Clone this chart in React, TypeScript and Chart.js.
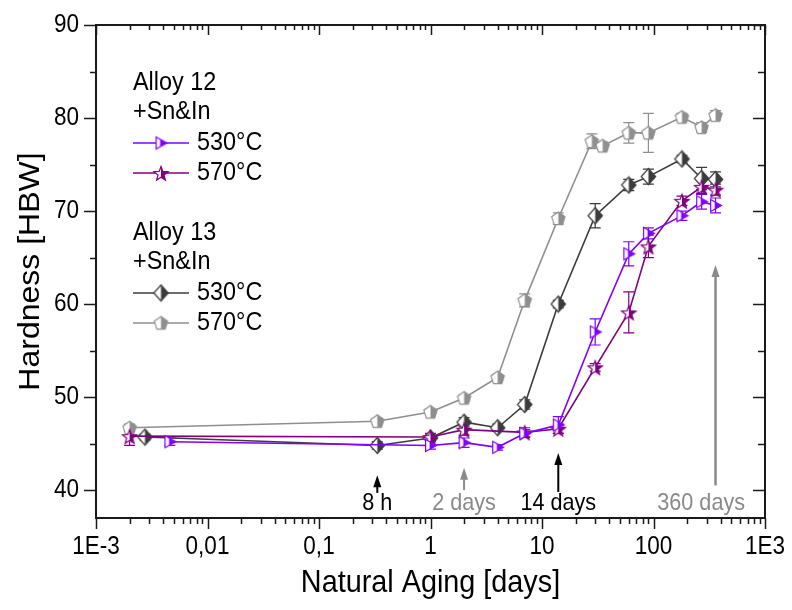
import React, { useEffect, useRef } from "react";
import { Chart, registerables } from "chart.js";

Chart.register(...registerables);

// ---------- data ----------
const X_TICKS = [0.001, 0.01, 0.1, 1, 10, 100, 1000];
const X_TICK_LABELS = ["1E-3", "0,01", "0,1", "1", "10", "100", "1E3"];
const Y_TICKS = [40, 50, 60, 70, 80, 90];
const Y_TICK_LABELS = ["40", "50", "60", "70", "80", "90"];
const Y_MINOR = [45, 55, 65, 75, 85];

const A12_530_DAYS = [0.0046, 1, 2, 4, 7, 14, 30, 60, 90, 180, 270, 360];
const A12_530_HBW = [45.2, 44.8, 45.1, 44.6, 46.1, 47.0, 57.0, 65.4, 67.6, 69.5, 71.0, 70.6];
const A12_530_ERR = [0.4, 0.4, 0.5, 0.3, 0.4, 0.9, 1.4, 1.3, 0.6, 0.5, 0.8, 0.8];

const A12_570_DAYS = [0.002, 1, 2, 7, 14, 30, 60, 90, 180, 270, 360];
const A12_570_HBW = [45.8, 45.7, 46.5, 46.2, 46.6, 53.2, 59.1, 66.2, 71.1, 72.6, 72.3];
const A12_570_ERR = [1.0, 0.4, 0.6, 0.5, 0.5, 0.4, 2.2, 1.2, 0.5, 0.7, 0.6];

const A13_530_DAYS = [0.00275, 0.333, 1, 2, 4, 7, 14, 30, 60, 90, 180, 270, 360];
const A13_530_HBW = [45.7, 44.8, 45.6, 47.3, 46.7, 49.2, 60.0, 69.5, 72.8, 73.7, 75.6, 73.5, 73.4];
const A13_530_ERR = [0.3, 0.4, 0.3, 0.5, 0.4, 0.5, 0.4, 1.3, 0.6, 0.8, 0.4, 1.2, 0.8];

const A13_570_DAYS = [0.002, 0.333, 1, 2, 4, 7, 14, 28, 35, 60, 90, 180, 270, 360];
const A13_570_HBW = [46.7, 47.4, 48.4, 49.9, 52.1, 60.4, 69.2, 77.5, 77.0, 78.4, 78.4, 80.1, 79.0, 80.3];
const A13_570_ERR = [0.4, 0.3, 0.3, 0.3, 0.3, 0.7, 0.6, 0.8, 0.4, 1.1, 2.1, 0.4, 0.5, 0.5];

const NOTE_DAYS = [1 / 3, 2, 14, 360];
const NOTE_TEXT = ["8 h", "2 days", "14 days", "360 days"];
const NOTE_TIP = [41.6, 42.4, 44.0, 64.2];
const NOTE_BASE = [39.7, 40.0, 39.8, 40.5];
const NOTE_TEXT_Y = [38.6, 38.6, 38.6, 38.6];

// ---------- styles ----------
const FONT = "'Liberation Sans', Arial, Helvetica, sans-serif";
const SQUEEZE = 0.9;
const C_VIOLET = "#8000ff";
const C_MAGENTA = "#800080";
const C_DARK = "#3c3c3c";
const C_GRAY = "#8f8f8f";
const NOTE_COLORS = ["#000000", "#8a8a8a", "#000000", "#8a8a8a"];

type Kind = "triangle" | "star" | "diamond" | "pentagon";

function shapePath(kind: Kind, size: number): Path2D {
  const p = new Path2D();
  const h = size / 2;
  const r = size / 2 - 1.5;
  if (kind === "triangle") {
    p.moveTo(h - r * 0.7, h - r * 0.85);
    p.lineTo(h + r * 0.85, h);
    p.lineTo(h - r * 0.7, h + r * 0.85);
    p.closePath();
  } else if (kind === "diamond") {
    p.moveTo(h, h - r);
    p.lineTo(h + r * 0.9, h);
    p.lineTo(h, h + r);
    p.lineTo(h - r * 0.9, h);
    p.closePath();
  } else if (kind === "pentagon") {
    for (let k = 0; k < 5; k++) {
      const a = -Math.PI / 2 + (k * 2 * Math.PI) / 5;
      const x = h + r * Math.cos(a);
      const y = h + 0.5 + r * Math.sin(a);
      if (k === 0) p.moveTo(x, y);
      else p.lineTo(x, y);
    }
    p.closePath();
  } else {
    for (let k = 0; k < 10; k++) {
      const a = -Math.PI / 2 + (k * Math.PI) / 5;
      const rr = k % 2 === 0 ? r : r * 0.42;
      const x = h + rr * Math.cos(a);
      const y = h + 1 + rr * Math.sin(a);
      if (k === 0) p.moveTo(x, y);
      else p.lineTo(x, y);
    }
    p.closePath();
  }
  return p;
}

function makeMarker(kind: Kind, color: string, size: number, split: number): HTMLCanvasElement {
  const c = document.createElement("canvas");
  c.width = size;
  c.height = size;
  const ctx = c.getContext("2d")!;
  const path = shapePath(kind, size);
  ctx.fillStyle = "#ffffff";
  ctx.fill(path);
  ctx.save();
  ctx.beginPath();
  ctx.rect(size * split, 0, size, size);
  ctx.clip();
  ctx.fillStyle = color;
  ctx.fill(path);
  ctx.restore();
  ctx.strokeStyle = color;
  ctx.lineWidth = 1.2;
  ctx.stroke(path);
  return c;
}

function text(
  ctx: CanvasRenderingContext2D,
  s: string,
  x: number,
  y: number,
  size: number,
  align: CanvasTextAlign,
  color: string,
  vertical = false
) {
  ctx.save();
  ctx.font = `${size}px ${FONT}`;
  ctx.fillStyle = color;
  ctx.textAlign = align;
  ctx.textBaseline = "middle";
  ctx.translate(x, y);
  if (vertical) {
    ctx.rotate(-Math.PI / 2);
    ctx.scale(1, SQUEEZE);
  } else {
    ctx.scale(SQUEEZE, 1);
  }
  ctx.fillText(s, 0, 0);
  ctx.restore();
}

const SERIES = [
  { name: "530°C", group: 12, days: A12_530_DAYS, hbw: A12_530_HBW, err: A12_530_ERR, color: C_VIOLET, kind: "triangle" as Kind, size: 17, split: 0.45 },
  { name: "570°C", group: 12, days: A12_570_DAYS, hbw: A12_570_HBW, err: A12_570_ERR, color: C_MAGENTA, kind: "star" as Kind, size: 18, split: 0.5 },
  { name: "530°C", group: 13, days: A13_530_DAYS, hbw: A13_530_HBW, err: A13_530_ERR, color: C_DARK, kind: "diamond" as Kind, size: 19, split: 0.5 },
  { name: "570°C", group: 13, days: A13_570_DAYS, hbw: A13_570_HBW, err: A13_570_ERR, color: C_GRAY, kind: "pentagon" as Kind, size: 17, split: 0.5 },
];

export default function App() {
  const ref = useRef<HTMLCanvasElement>(null);

  useEffect(() => {
    const markers = SERIES.map((s) => makeMarker(s.kind, s.color, s.size, s.split));

    const errorBars = {
      id: "errorBars",
      beforeDatasetsDraw(chart: any) {
        const ctx = chart.ctx;
        const ys = chart.scales.y;
        ctx.save();
        SERIES.forEach((s, di) => {
          const meta = chart.getDatasetMeta(di);
          ctx.strokeStyle = s.color;
          ctx.lineWidth = 1.2;
          meta.data.forEach((pt: any, i: number) => {
            const e = s.err[i];
            if (!e) return;
            const y1 = ys.getPixelForValue(s.hbw[i] + e);
            const y2 = ys.getPixelForValue(s.hbw[i] - e);
            const x = pt.x;
            ctx.beginPath();
            ctx.moveTo(x, y1);
            ctx.lineTo(x, y2);
            ctx.moveTo(x - 5.5, y1);
            ctx.lineTo(x + 5.5, y1);
            ctx.moveTo(x - 5.5, y2);
            ctx.lineTo(x + 5.5, y2);
            ctx.stroke();
          });
        });
        ctx.restore();
      },
    };

    const decor = {
      id: "decor",
      afterDraw(chart: any) {
        const ctx = chart.ctx;
        const a = chart.chartArea;
        const xs = chart.scales.x;
        const ys = chart.scales.y;
        ctx.save();
        // frame
        ctx.strokeStyle = "#1a1a1a";
        ctx.lineWidth = 2;
        ctx.strokeRect(a.left, a.top, a.right - a.left, a.bottom - a.top);
        ctx.lineWidth = 1.5;
        ctx.beginPath();
        const xMinor: number[] = [];
        for (let d = -3; d < 3; d++) for (let k = 2; k <= 9; k++) xMinor.push(k * Math.pow(10, d));
        X_TICKS.forEach((v) => {
          const x = Math.round(xs.getPixelForValue(v)) + 0.5;
          ctx.moveTo(x, a.bottom);
          ctx.lineTo(x, a.bottom + 11);
          ctx.moveTo(x, a.top);
          ctx.lineTo(x, a.top + 10);
        });
        xMinor.forEach((v) => {
          const x = Math.round(xs.getPixelForValue(v)) + 0.5;
          ctx.moveTo(x, a.bottom);
          ctx.lineTo(x, a.bottom + 6);
          ctx.moveTo(x, a.top);
          ctx.lineTo(x, a.top + 5);
        });
        Y_TICKS.forEach((v) => {
          const y = Math.round(ys.getPixelForValue(v)) + 0.5;
          ctx.moveTo(a.left, y);
          ctx.lineTo(a.left - 12, y);
          ctx.moveTo(a.right, y);
          ctx.lineTo(a.right - 12, y);
        });
        Y_MINOR.forEach((v) => {
          const y = Math.round(ys.getPixelForValue(v)) + 0.5;
          ctx.moveTo(a.left, y);
          ctx.lineTo(a.left - 6, y);
          ctx.moveTo(a.right, y);
          ctx.lineTo(a.right - 7, y);
        });
        ctx.stroke();

        // tick labels
        X_TICKS.forEach((v, i) => {
          text(ctx, X_TICK_LABELS[i], xs.getPixelForValue(v), a.bottom + 29, 25, "center", "#000");
        });
        Y_TICKS.forEach((v, i) => {
          text(ctx, Y_TICK_LABELS[i], a.left - 17, ys.getPixelForValue(v), 25, "right", "#000");
        });

        // axis titles
        text(ctx, "Natural Aging [days]", (a.left + a.right) / 2, 583, 32, "center", "#000");
        text(ctx, "Hardness [HBW]", 31, (a.top + a.bottom) / 2, 32, "center", "#000", true);

        // annotations
        NOTE_DAYS.forEach((d, i) => {
          const x = xs.getPixelForValue(d);
          const yt = ys.getPixelForValue(NOTE_TIP[i]);
          const yb = ys.getPixelForValue(NOTE_BASE[i]);
          const col = NOTE_COLORS[i];
          ctx.strokeStyle = col;
          ctx.fillStyle = col;
          ctx.lineWidth = i === 3 ? 2.5 : 2;
          ctx.beginPath();
          ctx.moveTo(x, yb);
          ctx.lineTo(x, yt + 8);
          ctx.stroke();
          ctx.beginPath();
          ctx.moveTo(x, yt);
          ctx.lineTo(x - 4, yt + 12);
          ctx.lineTo(x + 4, yt + 12);
          ctx.closePath();
          ctx.fill();
          ctx.font = `24px ${FONT}`;
          const w = ctx.measureText(NOTE_TEXT[i]).width * SQUEEZE;
          const tx = Math.min(x, a.right - 20 - w / 2);
          text(ctx, NOTE_TEXT[i], tx, ys.getPixelForValue(NOTE_TEXT_Y[i]), 24, "center", col);
        });

        // legend
        const lx0 = 133;
        const lx1 = 189;
        const tx = 197;
        const rows = [
          { title: ["Alloy 12", "+Sn&In"], y0: a.top + 58, group: 12 },
          { title: ["Alloy 13", "+Sn&In"], y0: a.top + 208, group: 13 },
        ];
        rows.forEach((r) => {
          text(ctx, r.title[0], lx0, r.y0, 26, "left", "#000");
          text(ctx, r.title[1], lx0, r.y0 + 29, 26, "left", "#000");
          let row = 0;
          SERIES.forEach((s, si) => {
            if (s.group !== r.group) return;
            const y = r.y0 + 60 + row * 30;
            ctx.strokeStyle = s.color;
            ctx.lineWidth = 1.6;
            ctx.beginPath();
            ctx.moveTo(lx0, y);
            ctx.lineTo(lx1, y);
            ctx.stroke();
            const m = markers[si];
            ctx.drawImage(m, (lx0 + lx1) / 2 - m.width / 2, y - m.height / 2);
            text(ctx, s.name, tx, y, 26, "left", "#000");
            row++;
          });
        });
        ctx.restore();
      },
    };

    const chart = new Chart(ref.current!, {
      type: "line",
      data: {
        datasets: SERIES.map((s, i) => ({
          label: s.name,
          data: s.days.map((d, j) => ({ x: d, y: s.hbw[j] })),
          borderColor: s.color,
          backgroundColor: s.color,
          borderWidth: 1.6,
          pointStyle: markers[i],
          pointRadius: 6,
          pointHoverRadius: 6,
          tension: 0,
          fill: false,
          clip: false,
        })),
      },
      options: {
        responsive: false,
        animation: false,
        devicePixelRatio: 1,
        events: [],
        layout: { padding: { top: 25, right: 27, left: 0, bottom: 0 } },
        plugins: { legend: { display: false }, tooltip: { enabled: false }, title: { display: false } },
        scales: {
          x: {
            type: "logarithmic",
            min: 0.001,
            max: 1000,
            afterBuildTicks: (s: any) => {
              s.ticks = X_TICKS.map((v) => ({ value: v, major: true }));
            },
            afterFit: (s: any) => {
              s.height = 92;
            },
            ticks: { display: false },
            grid: { display: false },
            border: { display: false },
          },
          y: {
            type: "linear",
            min: 37,
            max: 90,
            afterBuildTicks: (s: any) => {
              s.ticks = Y_TICKS.map((v) => ({ value: v }));
            },
            afterFit: (s: any) => {
              s.width = 96;
            },
            ticks: { display: false },
            grid: { display: false },
            border: { display: false },
          },
        },
      } as any,
      plugins: [errorBars, decor],
    });
    return () => chart.destroy();
  }, []);

  return (
    <div style={{ position: "absolute", left: 0, top: 0, width: 792, height: 610, background: "#fff" }}>
      <canvas ref={ref} width={792} height={610} style={{ display: "block" }} />
    </div>
  );
}
